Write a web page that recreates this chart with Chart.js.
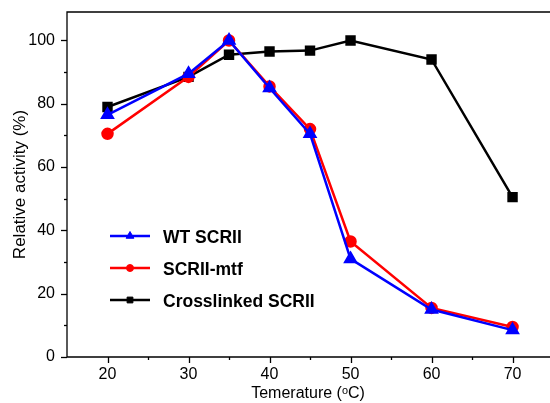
<!DOCTYPE html>
<html>
<head>
<meta charset="utf-8">
<script src="https://cdn.jsdelivr.net/npm/chart.js@4/dist/chart.umd.min.js"></script>
<style>
  html, body { margin: 0; padding: 0; background: #fff; overflow: hidden; }
  #wrap { width: 550px; height: 403px; position: relative; }
</style>
</head>
<body>
<div id="wrap"><canvas id="chart"></canvas></div>
<script>
(function () {
    "use strict";

    // data
    const temps = [20, 30, 35, 40, 45, 50, 60, 70];
    const wtScrii = [76.5, 89.5, 100, 85, 70.5, 31, 15, 8.5];
    const scriiMtf = [70.5, 88.5, 100, 85.5, 72, 36.5, 15.5, 9.5];
    const crosslinked = [79, 88.5, 95.5, 96.5, 96.8, 100, 94, 50.5];
    const seriesNames = ["WT SCRII", "SCRII-mtf", "Crosslinked SCRII"];
    const xTicks = [20, 30, 40, 50, 60, 70];
    const yTicks = [0, 20, 40, 60, 80, 100];

    const pts = (ys) => temps.map((t, i) => ({ x: t, y: ys[i] }));

    const FONT = "'Liberation Sans', Arial, sans-serif";

    // frame (right side is cut off in the original), ticks and the legend
    const decor = {
        id: "decor",
        afterDraw(chart) {
            const ctx = chart.ctx;
            const a = chart.chartArea;
            const xs = chart.scales.x, ys = chart.scales.y;
            ctx.save();
            ctx.strokeStyle = "#000";
            ctx.lineWidth = 1.3;
            ctx.beginPath();
            ctx.moveTo(a.right + 2, a.top);
            ctx.lineTo(a.left, a.top);
            ctx.lineTo(a.left, a.bottom);
            ctx.lineTo(a.right + 2, a.bottom);
            ctx.stroke();

            // x ticks
            for (let v = 15; v <= 75; v += 5) {
                const px = Math.round(xs.getPixelForValue(v)) + 0.5;
                if (px < a.left + 1 || px > a.right - 1) continue;
                const len = v % 10 === 0 ? 6 : 3;
                ctx.beginPath();
                ctx.moveTo(px, a.bottom);
                ctx.lineTo(px, a.bottom + len);
                ctx.stroke();
            }
            // y ticks
            for (let v = 0; v <= 100; v += 10) {
                const py = Math.round(ys.getPixelForValue(v)) + 0.5;
                const len = v % 20 === 0 ? 6 : 3;
                ctx.beginPath();
                ctx.moveTo(a.left, py);
                ctx.lineTo(a.left - len, py);
                ctx.stroke();
            }

            // legend
            const items = chart.data.datasets;
            const lx = 110, ly0 = 236, gap = 32;
            ctx.font = "bold 17.5px " + FONT;
            ctx.textBaseline = "middle";
            items.forEach((ds, i) => {
                const y = ly0 + i * gap;
                ctx.strokeStyle = ds.borderColor;
                ctx.fillStyle = ds.borderColor;
                ctx.lineWidth = 2.5;
                ctx.beginPath();
                ctx.moveTo(lx, y);
                ctx.lineTo(lx + 40, y);
                ctx.stroke();
                ctx.lineWidth = 1;
                Chart.helpers.drawPoint(ctx, {
                    pointStyle: ds.pointStyle,
                    radius: ds.legendRadius,
                    borderWidth: 1
                }, lx + 20, y);
                ctx.fillStyle = "#000";
                ctx.fillText(seriesNames[i], lx + 53, y + 2);
            });
            ctx.restore();
        }
    };

    const mk = (name, ys, color, style, r) => ({
        label: name,
        data: pts(ys),
        borderColor: color,
        backgroundColor: color,
        pointBackgroundColor: color,
        pointBorderColor: color,
        pointStyle: style,
        pointRadius: r,
        pointHoverRadius: r,
        legendRadius: r - 1.5,
        borderWidth: 2.5,
        tension: 0,
    });

    const ctx = document.getElementById("chart").getContext("2d");
    new Chart(ctx, {
        type: "line",
        data: {
            datasets: [
                mk(seriesNames[0], wtScrii, "#0000ff", "triangle", 6),
                mk(seriesNames[1], scriiMtf, "#ff0000", "circle", 5),
                mk(seriesNames[2], crosslinked, "#000000", "rect", 5.6),
            ],
        },
        options: {
            responsive: true,
            maintainAspectRatio: false,
            animation: false,
            layout: {
                autoPadding: false,
                padding: { top: 12, right: 1, left: 0, bottom: 0 },
            },
            plugins: {
                legend: { display: false },
                tooltip: { enabled: false },
            },
            scales: {
                x: {
                    type: "linear",
                    min: 15,
                    max: 74.5,
                    grid: { display: false, drawTicks: false, tickLength: 0 },
                    border: { display: false },
                    afterBuildTicks: (s) => { s.ticks = xTicks.map((v) => ({ value: v })); },
                    ticks: {
                        color: "#000",
                        font: { family: FONT, size: 16 },
                        padding: 8,
                        maxRotation: 0,
                        autoSkip: false,
                    },
                    title: {
                        display: true,
                        text: "Temerature (\u1D52C)",
                        color: "#000",
                        font: { family: FONT, size: 16 },
                        padding: { top: 0, bottom: 0 },
                    },
                    afterFit: (s) => {
                        s.height = 46;
                        s.paddingLeft = 0; s.paddingRight = 0;
                    },
                },
                y: {
                    min: 0,
                    max: 109,
                    grid: { display: false, drawTicks: false, tickLength: 0 },
                    border: { display: false },
                    afterBuildTicks: (s) => { s.ticks = yTicks.map((v) => ({ value: v })); },
                    ticks: {
                        color: "#000",
                        font: { family: FONT, size: 16 },
                        padding: 12,
                    },
                    title: {
                        display: true,
                        text: "Relative activity (%)",
                        color: "#000",
                        font: { family: FONT, size: 17 },
                        padding: { top: 10, bottom: 0 },
                    },
                    afterFit: (s) => {
                        s.width = 67;
                        s.paddingTop = 0; s.paddingBottom = 0;
                    },
                },
            },
        },
        plugins: [decor],
    });
})();
</script>
</body>
</html>
